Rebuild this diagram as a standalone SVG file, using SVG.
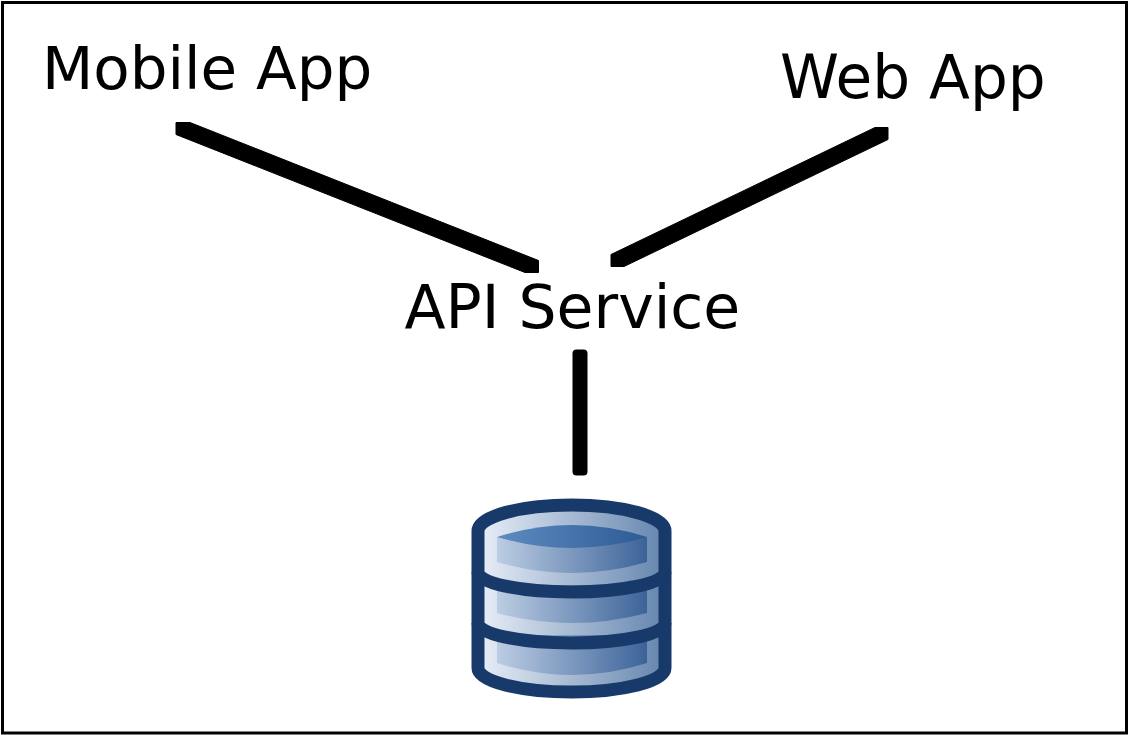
<svg xmlns="http://www.w3.org/2000/svg" width="1128" height="735" viewBox="0 0 1128 735">
<style>
text{font-family:"DejaVu Sans",sans-serif;font-size:60px;fill:#000}
.edge{fill:#000;stroke:#000;stroke-width:1;stroke-linejoin:round}
.o{fill:none;stroke:#183a6b;stroke-width:13;stroke-linejoin:round}
</style>
<defs>
<linearGradient id="a" x1="0" x2="1" y1="0" y2="0"><stop offset="0" stop-color="#e9eff8"/><stop offset="1" stop-color="#6485ae"/></linearGradient>
<linearGradient id="b" x1="0" x2="1" y1="0" y2="0"><stop offset="0" stop-color="#bccde3"/><stop offset="1" stop-color="#3c6399"/></linearGradient>
<linearGradient id="c" x1="0" x2="1" y1="0" y2="0"><stop offset="0" stop-color="#5d8cc0"/><stop offset="1" stop-color="#2e5a96"/></linearGradient>
</defs>
<rect x="2.500" y="2.500" width="1124" height="730.500" fill="#fff" stroke="#000" stroke-width="3"/>
<g id="connectors">
<path class="edge" d="M176 122.500H190L538.500 260.500V272.500H525L176 134.500Z"/>
<path class="edge" d="M611 254.500L875 127.500H888V139.500L624 266.500H611Z"/>
<rect x="572.500" y="349.500" width="15" height="126" rx="4" fill="#000"/>
</g>
<g id="mobile-app"><text x="42" y="89" style="font-size:59.500px">Mobile App</text></g>
<g id="web-app"><text x="780" y="98" style="font-size:59.700px">Web App</text></g>
<g id="api-service"><text x="404.500" y="328">API Service</text></g>
<g id="database">
<path d="M478 531A93.500 26 0 0 1 665 531V668A93.500 24 0 0 1 478 668Z" fill="url(#a)"/>
<path d="M497 537H647V562Q572 584 497 562Z" fill="url(#b)"/>
<path d="M497 585H647V613Q572 633 497 613Z" fill="url(#b)"/>
<path d="M497 635H647V663Q572 687 497 663Z" fill="url(#b)"/>
<path d="M497 537Q572 513 647 537Q572 559 497 537Z" fill="url(#c)"/>
<path class="o" d="M478 531A93.500 26 0 0 1 665 531V668A93.500 24 0 0 1 478 668Z"/>
<path class="o" d="M478 572A93.500 20 0 0 0 665 572"/>
<path class="o" d="M478 623A93.500 20 0 0 0 665 623"/>
</g>
</svg>
